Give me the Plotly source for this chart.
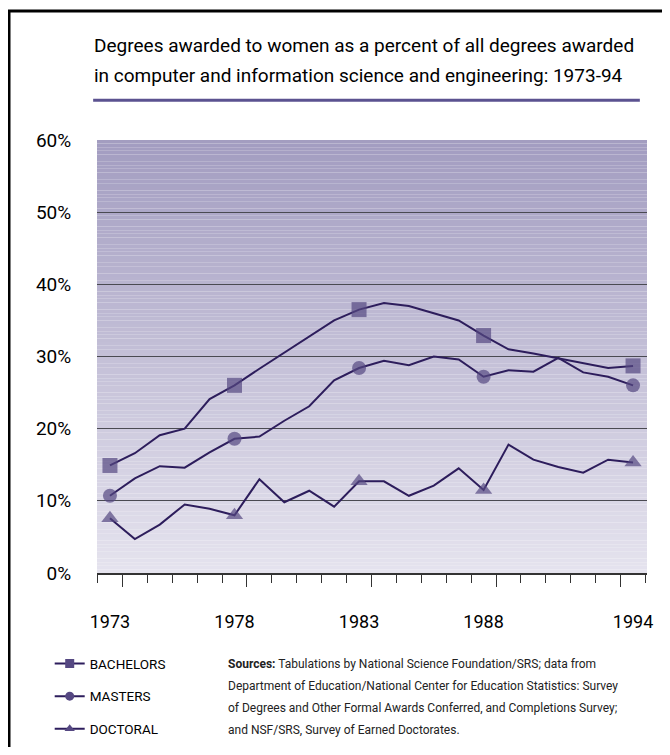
import plotly.graph_objects as go

# data (percent of degrees awarded to women)
years = list(range(1973, 1995))
bachelors = [14.9, 16.6, 19.1, 20.0, 24.1, 26.0, 28.3, 30.5, 32.8, 35.0, 36.5,
             37.4, 37.0, 36.0, 35.0, 32.9, 31.0, 30.4, 29.7, 29.0, 28.4, 28.7]
masters = [10.7, 13.1, 14.8, 14.6, 16.7, 18.6, 18.9, 21.1, 23.1, 26.7, 28.4,
           29.4, 28.8, 30.0, 29.6, 27.2, 28.1, 27.9, 29.8, 27.8, 27.2, 26.0]
doctoral = [7.6, 4.7, 6.7, 9.5, 8.9, 8.0, 13.0, 9.8, 11.4, 9.2, 12.7,
            12.7, 10.7, 12.1, 14.5, 11.5, 17.8, 15.7, 14.7, 13.9, 15.7, 15.3]
marked_years = [1973, 1978, 1983, 1988, 1994]
year_labels = ["1973", "1978", "1983", "1988", "1994"]
pct_ticks = [0, 10, 20, 30, 40, 50, 60]
pct_labels = ["0%", "10%", "20%", "30%", "40%", "50%", "60%"]

title_lines = [
    "Degrees awarded to women as a percent of all degrees awarded",
    "in computer and information science and engineering: 1973-94",
]
source_lines = [
    "<b>Sources:</b> Tabulations by National Science Foundation/SRS; data from",
    "Department of Education/National Center for Education Statistics: Survey",
    "of Degrees and Other Formal Awards Conferred, and Completions Survey;",
    "and NSF/SRS, Survey of Earned Doctorates.",
]

FONT = "Roboto, Liberation Sans, sans-serif"
LINE = "#2d1d5c"
MARK = "#554882"

series = [
    ("BACHELORS", bachelors, "square", 15),
    ("MASTERS", masters, "circle", 14),
    ("DOCTORAL", doctoral, "triangle-up", 15),
]

fig = go.Figure()
for name, vals, sym, sz in series:
    sizes = [sz if y in marked_years else 0 for y in years]
    fig.add_trace(go.Scatter(
        x=years, y=vals, mode="lines+markers", name=name, showlegend=False,
        line=dict(color=LINE, width=2),
        marker=dict(symbol=sym, size=sizes, color=MARK, line=dict(width=0)),
    ))
    # legend entry with a smaller marker
    fig.add_trace(go.Scatter(
        x=[None], y=[None], mode="lines+markers", name=name, legendgroup=name,
        line=dict(color=LINE, width=2),
        marker=dict(symbol=sym, size=9, color=MARK),
    ))

# vertical gradient behind the plot
top = (162, 156, 192)
bot = (229, 227, 238)
n = 120
for i in range(n):
    t = i / n
    c = tuple(round(bot[k] + (top[k] - bot[k]) * t) for k in range(3))
    fig.add_shape(type="rect", xref="paper", yref="y", x0=0, x1=1,
                  y0=60 * i / n, y1=60 * (i + 1) / n, layer="below",
                  line=dict(width=0), fillcolor="rgb(%d,%d,%d)" % c)

# rule under the title
fig.add_shape(type="line", xref="paper", yref="paper", x0=-0.007, x1=0.987,
              y0=1.092, y1=1.092, line=dict(color="#5b5290", width=3))
# frame (left and top)
fig.add_shape(type="path", xref="paper", yref="paper",
              path="M -0.16,-0.45 L -0.16,1.298 L 1.05,1.298",
              line=dict(color="black", width=3))

for i, txt in enumerate(title_lines):
    fig.add_annotation(text=txt, xref="paper", yref="paper", x=-0.009,
                       y=1.219 - i * 0.0693, xanchor="left", yanchor="middle",
                       showarrow=False, align="left",
                       font=dict(family=FONT, size=19, color="black"))

for i, txt in enumerate(source_lines):
    fig.add_annotation(text=txt, xref="paper", yref="paper", x=0.234,
                       y=-0.21 - i * 0.0505, xanchor="left", yanchor="middle",
                       showarrow=False, align="left",
                       font=dict(family=FONT, size=12, color="#222"))

fig.update_layout(
    width=662, height=739,
    margin=dict(l=89, r=23, t=132, b=174, autoexpand=False),
    paper_bgcolor="white", plot_bgcolor="white",
    font=dict(family=FONT, color="black"),
    showlegend=True,
    legend=dict(x=-0.086, y=-0.174, xanchor="left", yanchor="top",
                font=dict(size=13.5, color="black"), tracegroupgap=12,
                bgcolor="rgba(0,0,0,0)", itemclick=False),
    xaxis=dict(range=[1972.48, 1994.56], tickvals=marked_years,
               ticktext=year_labels, ticks="outside", ticklen=32,
               tickcolor="rgba(0,0,0,0)", showgrid=False, zeroline=False,
               showline=False, tickfont=dict(size=18)),
    xaxis2=dict(range=[1972.48, 1994.56], overlaying="x", side="bottom",
                anchor="y", showticklabels=False, showgrid=False,
                zeroline=False, showline=True, linecolor="#333", linewidth=2,
                ticks="outside", tick0=1973.5, dtick=5, ticklen=12,
                tickcolor="#333", tickwidth=1,
                minor=dict(ticks="outside", tick0=1972.5, dtick=1, ticklen=8,
                           tickcolor="#333", tickwidth=1)),
    yaxis=dict(range=[0, 60], tickvals=pct_ticks, ticktext=pct_labels,
               ticks="outside", ticklen=21, tickcolor="rgba(0,0,0,0)",
               showgrid=False, zeroline=False, showline=False,
               tickfont=dict(size=19),
               minor=dict(tickvals=[10, 20, 30, 40, 50], showgrid=True,
                          gridcolor="#4a4a52", gridwidth=1.2)),
)
# a trace on xaxis2 so the tick axis gets drawn
fig.add_trace(go.Scatter(x=[None], y=[None], xaxis="x2", showlegend=False,
                         hoverinfo="skip"))

fig.write_html("out.html")
